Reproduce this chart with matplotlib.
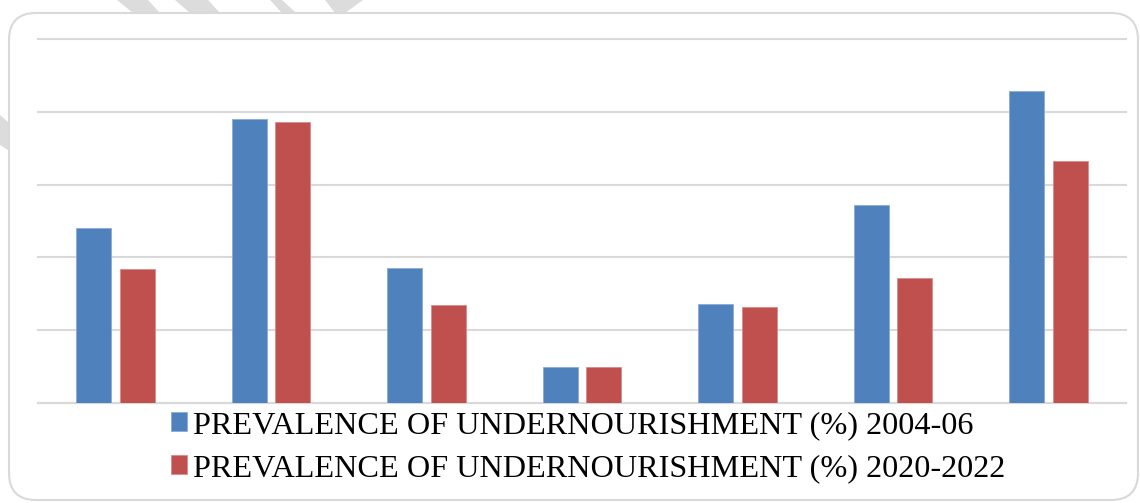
import matplotlib.pyplot as plt
import numpy as np
from matplotlib.patches import FancyBboxPatch, Polygon

# data (value axis has no labels, gridlines every 5)
prev_2004_06 = [12.0, 19.5, 9.3, 2.5, 6.8, 13.6, 21.4]
prev_2020_22 = [9.2, 19.3, 6.7, 2.5, 6.6, 8.6, 16.6]
series_labels = ['PREVALENCE OF UNDERNOURISHMENT (%) 2004-06',
                 'PREVALENCE OF UNDERNOURISHMENT (%) 2020-2022']

W, H = 1140, 503
fig = plt.figure(figsize=(W / 100, H / 100), dpi=100)

def px(x, y):
    return (x / W, 1 - y / H)

# grey diagonal watermark stripes peeking out behind the chart box
stripes = [
    [(117, 0), (148, 0), (160, 13), (133, 13)],
    [(175, 0), (208, 0), (220, 13), (190, 13)],
    [(270, 0), (282, 0), (296, 13), (282, 13)],
    [(325, 0), (363, 0), (345, 13), (335, 13)],
    [(0, 115), (0, 145), (8, 150), (8, 122)],
]
for s in stripes:
    fig.patches.append(Polygon([px(*p) for p in s], closed=True, transform=fig.transFigure,
                               facecolor='#dcdcdc', edgecolor='none', zorder=0))

# rounded chart border
x0, y0 = px(9, 500)
x1, y1 = px(1138, 13)
box = FancyBboxPatch((x0, y0), x1 - x0, y1 - y0,
                     boxstyle='round,pad=0,rounding_size=%f' % (27 / W),
                     transform=fig.transFigure, facecolor='white', edgecolor='#d9d9d9',
                     linewidth=1.5, zorder=1, mutation_aspect=W / H)
fig.patches.append(box)

ax = fig.add_axes([38 / W, 1 - 403 / H, (1126 - 38) / W, (403 - 39) / H])
ax.set_facecolor('none')
ax.set_zorder(2)

x = np.arange(len(prev_2004_06))
width = 0.225
off = 0.14
b1 = ax.bar(x - off, prev_2004_06, width, color='#4F81BD', edgecolor='#8aaad6', linewidth=0.6,
            label=series_labels[0], zorder=3)
b2 = ax.bar(x + off, prev_2020_22, width, color='#C0504D', edgecolor='#d98b89', linewidth=0.6,
            label=series_labels[1], zorder=3)

ax.set_xlim(-0.5, len(x) - 0.5)
ax.set_ylim(0, 25)
ax.set_yticks(np.arange(0, 26, 5))
ax.set_xticks([])
ax.yaxis.grid(True, color='#d9d9d9', linewidth=1.5, zorder=0)
for gl in ax.get_ygridlines():
    gl.set_clip_on(False)
ax.tick_params(axis='y', length=0, labelleft=False)
for sp in ['left', 'right', 'top']:
    ax.spines[sp].set_visible(False)
ax.spines['bottom'].set_color('#d9d9d9')
ax.spines['bottom'].set_linewidth(1.5)

fig.legend(handles=[b1, b2], labels=series_labels, loc='upper left',
           bbox_to_anchor=px(171, 411), frameon=False, borderpad=0, borderaxespad=0,
           handlelength=0.5, handleheight=0.5, handletextpad=0.19, labelspacing=0.43,
           prop={'family': 'Liberation Serif', 'size': 23.2})

fig.savefig('out.png', dpi=100)
